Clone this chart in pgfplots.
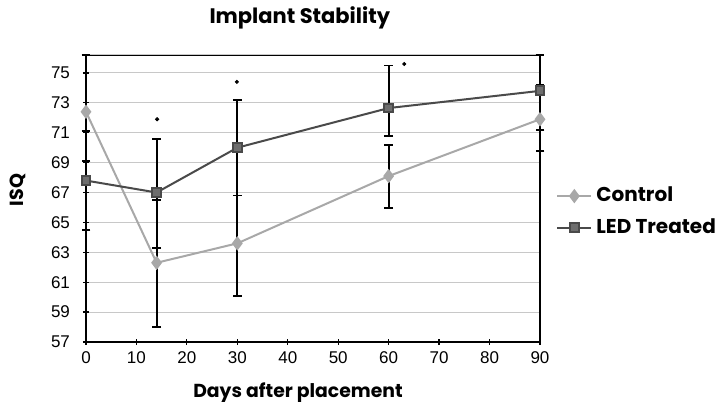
\documentclass[border=0pt]{standalone}
\usepackage{fontspec}
\setmainfont{Liberation Sans}
\newfontfamily\pop{Poppins}
\usepackage{pgfplots}
\pgfplotsset{compat=1.18}
\definecolor{cCtrl}{RGB}{168,168,168}
\definecolor{cLed}{RGB}{74,74,74}
\definecolor{cLedMark}{RGB}{110,110,110}
\definecolor{cGrid}{RGB}{200,200,200}

\begin{document}
\begin{tikzpicture}
\begin{axis}[scale only axis, width=227pt, height=143.5pt,
    xmin=0, xmax=90, ymin=57, ymax=76.2,
    xtick={0,10,...,90}, ytick={57,59,...,75},
    extra y ticks={76.2}, extra y tick labels={},
    extra y tick style={major tick length=0pt},
    ymajorgrids, grid style={cGrid, line width=0.5pt},
    axis line style={line width=0.6pt},
    tick style={black, line width=0.6pt},
    major tick length=3pt, tick align=center,
    xtick pos=bottom, ytick pos=left,
    ticklabel style={font=\fontsize{8.5}{9}\selectfont},
    yticklabel style={xshift=-3pt},
    /pgf/number format/assume math mode=true,
    title={Implant Stability},
    title style={font=\pop\bfseries\fontsize{10.5}{12}\selectfont,
      at={(axis description cs:0.471,1)}, anchor=center, yshift=12.5pt},
    xlabel={Days after placement},
    xlabel style={font=\pop\bfseries\fontsize{9.4}{11}\selectfont,
      at={(axis description cs:0.467,0)}, anchor=center, yshift=-25.5pt},
    ylabel={ISQ},
    ylabel style={font=\pop\bfseries\fontsize{9.5}{11}\selectfont,
      at={(axis description cs:0,0.53)}, anchor=center, yshift=34pt},
    legend style={draw=none, fill=none, at={(axis description cs:1.035,0.453)},
      anchor=west, font=\pop\bfseries\fontsize{10}{12}\selectfont,
      row sep=3pt, inner sep=0pt},
    legend cell align=left,
    clip=false]
  \addplot[cCtrl, line width=1pt, mark=diamond*, mark size=2.8pt,
      mark options={fill=cCtrl, draw=cCtrl},
      error bars/.cd, y dir=both, y explicit,
      error bar style={black, line width=0.9pt, solid},
      error mark options={rotate=90, mark size=2.2pt, black, line width=0.9pt}]
    coordinates {
      (0,72.4)  += (0,3.8)  -= (0,3.3)
      (14,62.3) += (0,4.2)  -= (0,4.3)
      (30,63.6) += (0,3.2)  -= (0,3.5)
      (60,68.1) += (0,2.1)  -= (0,2.15)
      (90,71.9) += (0,2.3)  -= (0,2.1)
    };
  \addlegendentry{Control}
  \addplot[cLed, line width=1pt, mark=square*, mark size=2.2pt,
      mark options={fill=cLedMark, draw=cLed},
      error bars/.cd, y dir=both, y explicit,
      error bar style={black, line width=0.9pt, solid},
      error mark options={rotate=90, mark size=2.2pt, black, line width=0.9pt}]
    coordinates {
      (0,67.8)  += (0,3.3)  -= (0,3.3)
      (14,67.0) += (0,3.6)  -= (0,3.7)
      (30,70.0) += (0,3.2)  -= (0,3.2)
      (60,72.65) += (0,2.85) -= (0,1.85)
      (90,73.8) += (0,2.4)  -= (0,2.6)
    };
  \addlegendentry{LED Treated}
  % significance markers
  \addplot[only marks, mark=*, mark size=0.8pt, black, forget plot]
    coordinates {(14.1,71.9) (29.9,74.4) (63.1,75.6)};
\end{axis}
\pgfresetboundingbox
\path[use as bounding box] (-43pt,-32.5pt) rectangle (317pt,171pt);
\end{tikzpicture}
\end{document}
